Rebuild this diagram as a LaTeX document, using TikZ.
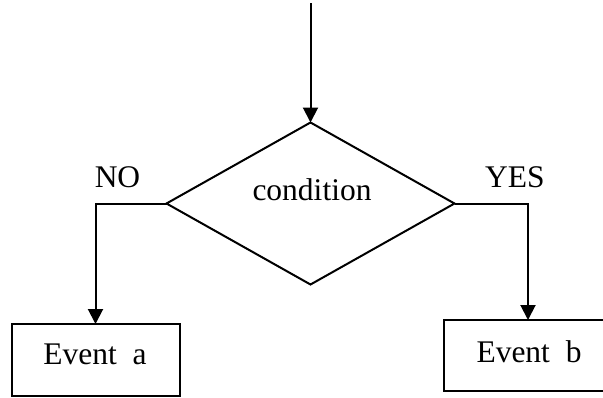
\documentclass[tikz,border=0pt]{standalone}
\usepackage{fontspec}
\setmainfont{Liberation Serif}
\usetikzlibrary{shapes.geometric,arrows.meta}
\begin{document}
\begin{tikzpicture}[x=1pt,y=-1pt,
  every node/.style={outer sep=0pt},
  ln/.style={line width=2pt,black},
  arr/.style={ln,-{Triangle[length=15pt,width=15pt]}},
  decision/.style={ln,draw,diamond,inner sep=0pt,minimum width=288pt,minimum height=162pt},
  eventbox/.style={ln,draw,rectangle,inner sep=0pt,minimum width=168pt},
  lbl/.style={inner sep=0pt,anchor=base,font=\fontsize{31.5}{36}\selectfont}]
\useasboundingbox (0,0) rectangle (603,397);
\coordinate (top) at (310.5,3);
\node[decision] (cond) at (310.5,203.5) {};
\node[lbl] (condtext) at (312,200) {condition};
\node[eventbox,minimum height=72pt] (ea) at (95.5,360) {};
\node[lbl] (eatext) at (95,364) {Event\ \ a};
\node[eventbox,minimum height=71pt] (eb) at (528,355.5) {};
\node[lbl] (ebtext) at (529,362) {Event\ \ b};
\node[lbl] (no) at (117.5,187) {NO};
\node[lbl] (yes) at (515,187) {YES};
\draw[arr] (top) -- (cond.north);
\draw[arr] (cond.west) -| (ea.north);
\draw[arr] (cond.east) -| (eb.north);
\end{tikzpicture}
\end{document}
